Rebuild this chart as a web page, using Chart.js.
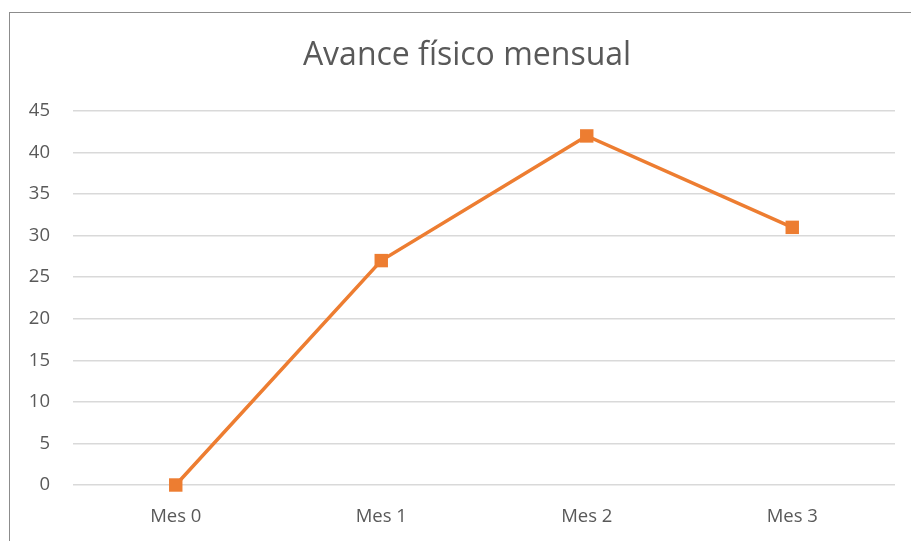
<!DOCTYPE html>
<html>
<head>
<meta charset="utf-8">
<script src="https://cdn.jsdelivr.net/npm/chart.js@4"></script>
<style>
  body { margin: 0; background: #fff; }
  #wrap { position: relative; width: 911px; height: 541px; overflow: hidden; }
  #frame {
    position: absolute; left: 9px; top: 12px; width: 1000px; height: 600px;
    border-left: 1px solid #8c8c8c; border-top: 1px solid #8c8c8c;
  }
  canvas { position: absolute; left: 0; top: 0; }
</style>
</head>
<body>
<div id="wrap">
  <div id="frame"></div>
  <canvas id="chart" width="911" height="541"></canvas>
</div>
<script>
const months = ["Mes 0", "Mes 1", "Mes 2", "Mes 3"];
const avance = [0, 27, 42, 31];
const yTicks = [0, 5, 10, 15, 20, 25, 30, 35, 40, 45];
const chartTitle = "Avance físico mensual";

const orange = "#ed7d31";
const textGrey = "#595959";
const font = "'Open Sans', 'Liberation Sans', sans-serif";

// title is centred on the frame, not on the canvas minus padding
const frameTitle = {
  id: "frameTitle",
  afterDraw(chart) {
    const c = chart.ctx;
    c.save();
    c.fillStyle = textGrey;
    c.font = "32px " + font;
    c.textAlign = "center";
    c.textBaseline = "middle";
    c.fillText(chartTitle, 467, 56);
    c.restore();
  },
};

const ctx = document.getElementById("chart");
new Chart(ctx, {
  type: "line",
  data: {
    labels: months,
    datasets: [
      {
        data: avance,
        borderColor: orange,
        backgroundColor: orange,
        borderWidth: 3.5,
        pointStyle: "rect",
        pointRadius: 9.5,
        pointHoverRadius: 9.5,
        pointBorderWidth: 0,
        tension: 0,
        clip: false, // keep the marker at 0 whole
      },
    ],
  },
  plugins: [frameTitle],
  options: {
    responsive: false,
    animation: false,
    layout: { padding: { left: 0, top: 111, right: 16, bottom: 0 } },
    plugins: {
      legend: { display: false },
      tooltip: { enabled: false },
      title: { display: false },
    },
    scales: {
      x: {
        offset: true,
        grid: { display: false },
        border: { display: false },
        ticks: { color: textGrey, font: { family: font, size: 18.5 }, padding: 13 },
        afterFit: (scale) => { scale.height = 56; },
      },
      y: {
        min: 0,
        max: 45,
        afterBuildTicks: (scale) => { scale.ticks = yTicks.map((v) => ({ value: v })); },
        grid: { color: "#d9d9d9", lineWidth: 1.5, drawTicks: false },
        border: { display: false },
        ticks: { color: textGrey, font: { family: font, size: 18.5 }, padding: 23 },
        afterFit: (scale) => { scale.width = 73; },
      },
    },
  },
});
</script>
</body>
</html>
